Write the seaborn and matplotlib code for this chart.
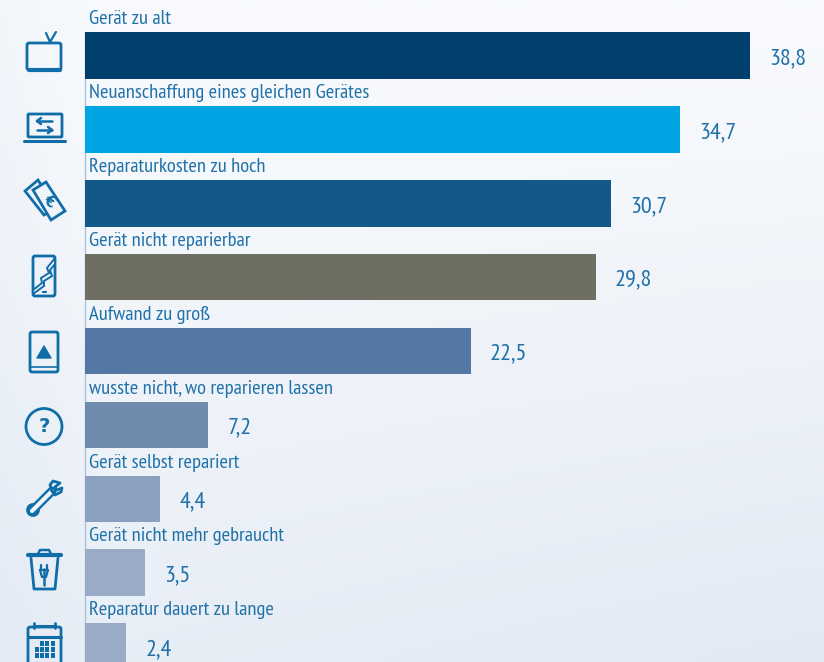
import numpy as np
import pandas as pd
import matplotlib
matplotlib.use("Agg")
import matplotlib.pyplot as plt
from matplotlib import font_manager as fm
from matplotlib.patches import Rectangle, FancyBboxPatch, Circle, Polygon
import seaborn as sns

categories = ["Gerät zu alt", "Neuanschaffung eines gleichen Gerätes", "Reparaturkosten zu hoch",
              "Gerät nicht reparierbar", "Aufwand zu groß", "wusste nicht, wo reparieren lassen",
              "Gerät selbst repariert", "Gerät nicht mehr gebraucht", "Reparatur dauert zu lange"]
values = [38.8, 34.7, 30.7, 29.8, 22.5, 7.2, 4.4, 3.5, 2.4]
value_labels = ["38,8", "34,7", "30,7", "29,8", "22,5", "7,2", "4,4", "3,5", "2,4"]
bar_colors = ["#003f6e", "#00a5e3", "#12598a", "#6e6e62", "#5478a3", "#6e8bae", "#8ba0bf", "#9aabc7", "#9aabc7"]

sns.set_theme(style="white")
names = {f.name for f in fm.fontManager.ttflist}
chosen = next((n for n in ["PT Sans Narrow", "Fira Sans Condensed", "Roboto Condensed", "Open Sans Condensed",
                           "Asap Condensed", "Abel", "Roboto"] if n in names), "DejaVu Sans")
plt.rcParams["font.family"] = [chosen, "DejaVu Sans"]
TXT = "#1f71a8"
ICON = "#0f6ea8"
W, H = 824, 662
fig = plt.figure(figsize=(W / 100, H / 100), dpi=100)

# fit the type size to the width of the longest label in the reference
probe = fig.text(0, 0, categories[1], fontsize=14)
label_size = 14 * 281 / probe.get_window_extent(fig.canvas.get_renderer()).width
probe.set_text(value_labels[0])
value_size = 14 * 37.5 / probe.get_window_extent(fig.canvas.get_renderer()).width
probe.remove()

# background gradient
bg = fig.add_axes([0, 0, 1, 1], zorder=0)
yy, xx = np.mgrid[0:1:160j, 0:1:200j]
c1 = np.array([0xf8, 0xfa, 0xfd]) / 255
c2 = np.array([0xdc, 0xe5, 0xf1]) / 255
t = np.clip(0.55 * yy ** 1.3 + 0.25 * xx * yy + 0.35 * np.clip(0.12 - xx, 0, 1) / 0.12 * 0.6, 0, 1)[..., None]
bg.imshow(c1 + (c2 - c1) * t, aspect="auto", extent=[0, 1, 0, 1], origin="upper", interpolation="bilinear")
bg.axis("off")

# chart axes cover the whole figure: bars through the library's scales
ax = fig.add_axes([0, 0, 1, 1], zorder=1)
ax.patch.set_alpha(0)
df = pd.DataFrame({"cat": categories, "val": values})
sns.barplot(data=df, y="cat", x="val", hue="cat", palette=bar_colors, legend=False,
            width=46.5 / 73.9, saturation=1, ax=ax, dodge=False, linewidth=0)
px_per_unit = 17.14
step = 73.88
ax.set_xlim(-85 / px_per_unit, (W - 85) / px_per_unit)
ax.set_ylim((H - 55.5) / step, -55.5 / step)
ax.set_xlabel(""); ax.set_ylabel("")
ax.set_xticks([]); ax.set_yticks([])
for s in ax.spines.values():
    s.set_visible(False)
ax.axvline(0, ymin=0, ymax=1 - 32 / H, color="#a9c3d9", lw=1, zorder=0)
for i, (cat, v, lab) in enumerate(zip(categories, values, value_labels)):
    ax.annotate(cat, (0, i), xytext=(3, 19.6), textcoords="offset points",
                color=TXT, fontsize=label_size, ha="left", va="bottom")
    ax.annotate(lab, (v, i), xytext=(13.8, -2.2), textcoords="offset points",
                color=TXT, fontsize=value_size, ha="left", va="center")

# icons (decoration), in pixel coordinates
ic = fig.add_axes([0, 0, 1, 1], zorder=2)
ic.set_xlim(0, W); ic.set_ylim(H, 0); ic.axis("off"); ic.patch.set_alpha(0)
lw = 2.0
PAPER = "#f1f5fa"
def box(x, y, w, h, r=2, fc="none", l=lw):
    ic.add_patch(FancyBboxPatch((x + r, y + r), w - 2 * r, h - 2 * r, boxstyle=f"round,pad={r}",
                                fc=fc, ec=ICON, lw=l))
def line(xs, ys, l=lw):
    ic.plot(xs, ys, color=ICON, lw=l, solid_capstyle="round", solid_joinstyle="round")

# TV
box(27, 43, 34, 27); line([46, 50, 56], [33, 42, 32], 1.6)
line([29, 60], [70, 70], 3)
# laptop
box(28, 114, 34, 23, 1); line([24, 65], [141, 141], 2.2)
line([37, 52], [121, 121], 1.8); line([37, 41], [121, 118], 1.8); line([37, 41], [121, 124], 1.8)
line([37, 52], [130, 130], 1.8); line([52, 48], [130, 127], 1.8); line([52, 48], [130, 133], 1.8)
# money
ic.add_patch(Polygon([[25, 191], [38, 180], [56, 208], [44, 215]], closed=True, fc=PAPER, ec=ICON, lw=lw))
ic.add_patch(Polygon([[33, 190], [46, 182], [65, 211], [51, 220]], closed=True, fc=PAPER, ec=ICON, lw=lw))
ic.text(49, 201, "€", color=ICON, fontsize=11, fontweight="bold", rotation=-35, ha="center", va="center",
        family="DejaVu Sans")
# phone with crack
box(33, 256, 22, 40)
ic.add_patch(Polygon([[55, 258], [47, 268], [49, 273], [41, 278], [42, 283], [33, 290], [33, 294],
                      [44, 286], [44, 281], [52, 276], [50, 270], [55, 264]], closed=True, fc=PAPER, ec=ICON, lw=1.4))
line([43, 46], [292, 292], 1.6)
# tablet
box(30, 332, 28, 40); line([31, 57], [367, 367], 1.2)
ic.add_patch(Polygon([[44, 346], [37, 358], [51, 358]], closed=True, fc=ICON, ec=ICON, lw=1, joinstyle="round"))
# question
ic.add_patch(Circle((44, 426.5), 18, fc="none", ec=ICON, lw=2))
ic.text(44, 427, "?", color=ICON, fontsize=14, fontweight="bold", ha="center", va="center", family="DejaVu Sans")
# wrench
line([32, 52], [511, 491], 6.5)
ic.plot([32, 52], [511, 491], color=PAPER, lw=3, solid_capstyle="round")
ic.add_patch(Circle((33, 510), 5.5, fc=PAPER, ec=ICON, lw=2))
ic.add_patch(Circle((33, 510), 1.5, fc=ICON, ec=ICON, lw=0.5))
line([52, 50, 53, 60, 55, 57, 62, 61, 55, 52], [491, 485, 481, 483, 487, 490, 488, 492, 495, 491], 2)
# bin
line([28, 61], [555, 555], 3); line([38, 40, 49, 51], [554, 550, 550, 554], 1.8)
line([31, 34, 55, 58], [558, 589, 589, 558], 2)
line([44, 44], [569, 585], 1.8); line([41, 41], [565, 570], 1.6); line([47, 47], [565, 570], 1.6)
line([40, 48, 46, 42, 40], [570, 570, 577, 577, 570], 1.6)
# calendar
box(28, 627, 33, 40, 2); line([28, 61], [637, 637], 2.2)
line([36, 53], [626, 626], 2.2); line([34, 34], [623, 628], 2); line([55, 55], [623, 628], 2)
for r in range(3):
    for q in range(4):
        if not (r == 0 and q == 0):
            ic.add_patch(Rectangle((35 + q * 5.2, 641 + r * 6.2), 4, 4.6, fc=ICON, ec="none"))

fig.savefig("out.png", dpi=100)
